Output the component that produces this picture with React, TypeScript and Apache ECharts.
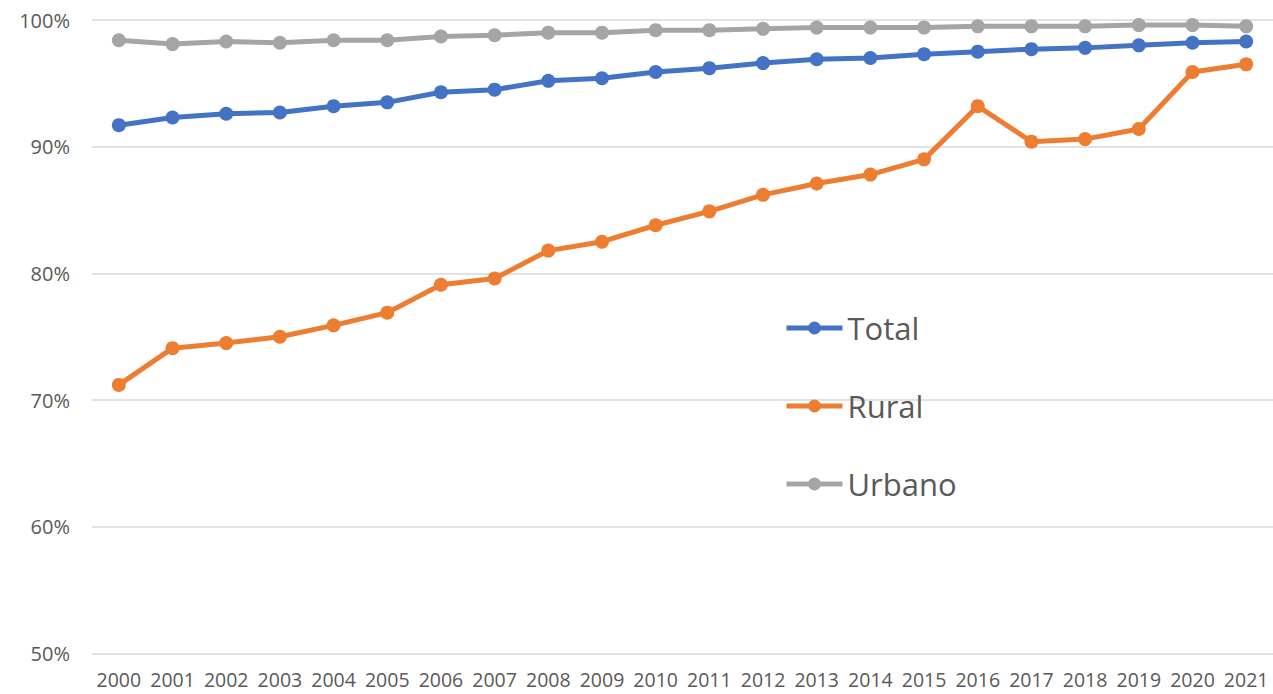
import React, { useEffect, useRef } from "react";
import * as echarts from "echarts";

const years = [
  "2000", "2001", "2002", "2003", "2004", "2005", "2006", "2007", "2008", "2009", "2010",
  "2011", "2012", "2013", "2014", "2015", "2016", "2017", "2018", "2019", "2020", "2021",
];

const total = [
  91.7, 92.3, 92.6, 92.7, 93.2, 93.5, 94.3, 94.5, 95.2, 95.4, 95.9,
  96.2, 96.6, 96.9, 97.0, 97.3, 97.5, 97.7, 97.8, 98.0, 98.2, 98.3,
];

const rural = [
  71.2, 74.1, 74.5, 75.0, 75.9, 76.9, 79.1, 79.6, 81.8, 82.5, 83.8,
  84.9, 86.2, 87.1, 87.8, 89.0, 93.2, 90.4, 90.6, 91.4, 95.9, 96.5,
];

const urbano = [
  98.4, 98.1, 98.3, 98.2, 98.4, 98.4, 98.7, 98.8, 99.0, 99.0, 99.2,
  99.2, 99.3, 99.4, 99.4, 99.4, 99.5, 99.5, 99.5, 99.6, 99.6, 99.5,
];

const seriesDefs = [
  { name: "Total", data: total, color: "#4472C4" },
  { name: "Rural", data: rural, color: "#ED7D31" },
  { name: "Urbano", data: urbano, color: "#A5A5A5" },
];

const FONT = "'Open Sans', 'Noto Sans', sans-serif";

export default function App() {
  const ref = useRef<HTMLDivElement>(null);

  useEffect(() => {
    if (!ref.current) return;
    const chart = echarts.init(ref.current, null, { renderer: "svg" });
    chart.setOption({
      animation: false,
      backgroundColor: "#ffffff",
      grid: { left: 92, width: 1184, top: 20, bottom: 40.5, containLabel: false },
      legend: {
        orient: "vertical",
        left: 784,
        top: 310,
        padding: 0,
        itemWidth: 56,
        itemHeight: 16,
        itemGap: 42,
        lineStyle: { width: 5 },
        textStyle: { fontFamily: FONT, fontSize: 31, color: "#595959", lineHeight: 36 },
        data: seriesDefs.map((s) => s.name),
      },
      xAxis: {
        type: "category",
        data: years,
        boundaryGap: true,
        axisLine: { show: false },
        axisTick: { show: false },
        axisLabel: {
          fontFamily: FONT,
          fontSize: 19.5,
          lineHeight: 20,
          color: "#595959",
          margin: 16,
          interval: 0,
        },
      },
      yAxis: {
        type: "value",
        min: 50,
        max: 100,
        interval: 10,
        axisLine: { show: false },
        axisTick: { show: false },
        splitLine: { lineStyle: { color: "#D9D9D9", width: 1.5 } },
        axisLabel: {
          fontFamily: FONT,
          fontSize: 20,
          color: "#595959",
          margin: 22,
          formatter: (v: number) => `${v}%`,
        },
      },
      series: seriesDefs.map((s) => ({
        name: s.name,
        type: "line",
        data: s.data,
        symbol: "circle",
        symbolSize: 14,
        lineStyle: { color: s.color, width: 5 },
        itemStyle: { color: s.color },
      })),
    });
    return () => chart.dispose();
  }, []);

  return (
    <div
      ref={ref}
      style={{ position: "absolute", left: 0, top: 0, width: 1273, height: 694 }}
    />
  );
}
